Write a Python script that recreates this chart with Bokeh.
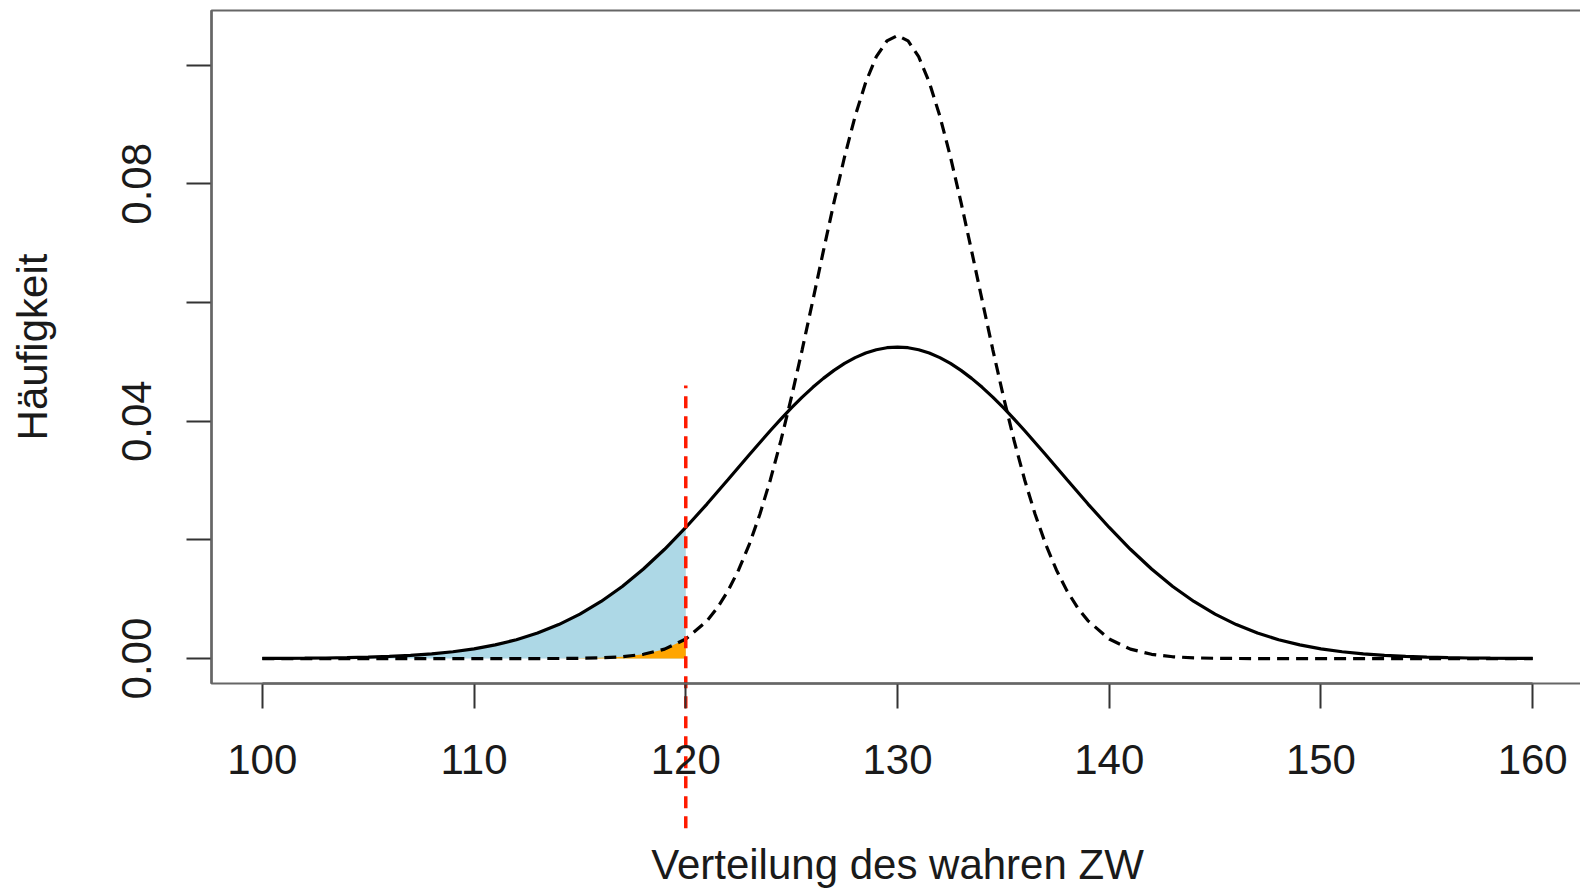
from bokeh.plotting import figure
from bokeh.models import Range1d, FixedTicker, NumeralTickFormatter, BoxAnnotation, ColumnDataSource
from bokeh.embed import file_html
from bokeh.resources import INLINE

# ---- data ----
# solid curve (observed distribution)
x_solid_left = [100, 101, 102, 103, 104, 105, 106, 107, 108, 109, 110, 111, 112, 113, 114,
                115, 116, 117, 118, 119, 120, 121, 122, 123, 124, 124.5, 125, 125.5, 126,
                126.5, 127, 127.5, 128, 128.5, 129, 129.5]
solid_left = [0.0000217, 0.0000362, 0.0000593, 0.0000954, 0.000151, 0.000235, 0.000359,
              0.000539, 0.000795, 0.001154, 0.001646, 0.002306, 0.003177, 0.004301,
              0.005724, 0.007485, 0.009621, 0.012155, 0.015091, 0.018416, 0.022088,
              0.026036, 0.030164, 0.034346, 0.038437, 0.040399, 0.042277, 0.044052,
              0.045703, 0.047210, 0.048558, 0.049728, 0.050706, 0.051479, 0.052040,
              0.052379]
solid_peak = [0.052492]
x_solid = x_solid_left + [130] + [260 - v for v in x_solid_left[::-1]]
y_solid = solid_left + solid_peak + solid_left[::-1]

# dashed curve (true-score distribution)
x_dash_left = list(range(100, 122)) + [121.5, 122, 122.5, 123, 123.5, 124, 124.5, 125, 125.5,
                                       126, 126.5, 127, 127.5, 128, 128.5, 129, 129.5]
dash_left = [0.0, 0.0, 0.0, 0.0, 0.0, 0.0, 0.0, 0.0, 0.0, 0.0, 0.0000001, 0.0000004,
             0.0000014, 0.0000047, 0.0000148, 0.0000434, 0.000119, 0.000302, 0.000717,
             0.001591, 0.003291, 0.006354, 0.008603, 0.011447, 0.014971, 0.019243,
             0.024309, 0.030183, 0.036832, 0.044175, 0.052073, 0.060328, 0.068693,
             0.076875, 0.084555, 0.091406, 0.097116, 0.101412, 0.104080]
dash_peak = [0.104985]
x_dash = x_dash_left + [130] + [260 - v for v in x_dash_left[::-1]]
y_dash = dash_left + dash_peak + dash_left[::-1]

cutoff = 120
cut_line_y = [-0.0286, 0.0460]

x_ticks = [100, 110, 120, 130, 140, 150, 160]
y_major = [0.0, 0.04, 0.08]
y_minor = [0.02, 0.06, 0.10]

x_title = "Verteilung des wahren ZW"
y_title = "Häufigkeit"

# ---- plot region like R (4 % padding around data range) ----
x_min, x_max = 100.0, 160.0
y_min, y_max = 0.0, 0.105
x_lo = x_min - 0.04 * (x_max - x_min)
x_hi = x_max + 0.04 * (x_max - x_min)
y_lo = y_min - 0.04 * (y_max - y_min)
y_hi = y_max + 0.04 * (y_max - y_min)

W, H = 1580, 890
box_l, box_r, box_t, box_b = 211, 1583, 10, 683      # pixel placement of the plot box
kx = (box_r - box_l) / (x_hi - x_lo)
ky = (box_b - box_t) / (y_hi - y_lo)
xr = Range1d(x_lo - box_l / kx, x_lo + (W - box_l) / kx)
yr = Range1d(y_lo - (H - box_b) / ky, y_hi + box_t / ky)

# shaded tails (values up to the cut-off)
n_s = x_solid.index(cutoff) + 1
n_d = x_dash.index(cutoff) + 1
tail_solid = ColumnDataSource(dict(x=x_solid[:n_s], y2=y_solid[:n_s], y1=[0.0] * n_s))
tail_dash = ColumnDataSource(dict(x=x_dash[:n_d], y2=y_dash[:n_d], y1=[0.0] * n_d))

FONT = "Liberation Sans"
FS = "42px"
TXT = "#1a1a1a"

p = figure(width=W, height=H, output_backend="svg", toolbar_location=None,
           x_range=xr, y_range=yr,
           min_border_left=0, min_border_right=0, min_border_top=0, min_border_bottom=0)
p.xgrid.visible = False
p.ygrid.visible = False
p.background_fill_color = "white"
p.border_fill_color = "white"
p.outline_line_color = None

# plot box (right side lies beyond the page edge)
p.add_layout(BoxAnnotation(left=x_lo, right=x_hi, bottom=y_lo, top=y_hi,
                           fill_color=None, fill_alpha=0, line_color="#666666",
                           line_alpha=1.0, line_width=2.2))

p.varea(x="x", y1="y1", y2="y2", source=tail_solid, fill_color="#ADD8E6")
p.varea(x="x", y1="y1", y2="y2", source=tail_dash, fill_color="#FFA500")

p.line(x_solid, y_solid, line_color="black", line_width=3.2)
p.line(x_dash, y_dash, line_color="black", line_width=3.2, line_dash="12 7")

p.segment(x0=[cutoff], y0=[cut_line_y[0]], x1=[cutoff], y1=[cut_line_y[1]],
          line_color="#ff1a00", line_width=3.5, line_dash="12 8")

# x axis
xa = p.xaxis[0]
xa.fixed_location = y_lo
xa.ticker = FixedTicker(ticks=x_ticks)
xa.bounds = (x_ticks[0], x_ticks[-1])
xa.axis_line_color = "#222222"
xa.axis_line_width = 2
xa.major_tick_out = 25
xa.major_tick_in = 0
xa.major_tick_line_color = "#333333"
xa.major_tick_line_width = 2
xa.minor_tick_line_color = None
xa.major_label_standoff = 36
xa.major_label_text_font = FONT
xa.major_label_text_font_size = FS
xa.major_label_text_color = TXT
xa.axis_label = x_title
xa.axis_label_text_font = FONT
xa.axis_label_text_font_size = FS
xa.axis_label_text_font_style = "normal"
xa.axis_label_text_color = TXT
xa.axis_label_standoff = 64

# y axis
ya = p.yaxis[0]
ya.fixed_location = x_lo
ya.ticker = FixedTicker(ticks=y_major, minor_ticks=y_minor)
ya.formatter = NumeralTickFormatter(format="0.00")
ya.bounds = (y_lo, y_hi)
ya.axis_line_color = "#333333"
ya.axis_line_width = 2
ya.major_tick_out = 25
ya.major_tick_in = 0
ya.minor_tick_out = 25
ya.minor_tick_in = 0
ya.major_tick_line_color = "#333333"
ya.minor_tick_line_color = "#333333"
ya.major_tick_line_width = 2
ya.minor_tick_line_width = 2
ya.major_label_orientation = "vertical"
ya.major_label_standoff = 35
ya.major_label_text_font = FONT
ya.major_label_text_font_size = FS
ya.major_label_text_color = TXT
ya.axis_label = y_title
ya.axis_label_text_font = FONT
ya.axis_label_text_font_size = FS
ya.axis_label_text_font_style = "normal"
ya.axis_label_text_color = TXT
ya.axis_label_standoff = 64

open("out.html", "w").write(file_html(p, INLINE))
